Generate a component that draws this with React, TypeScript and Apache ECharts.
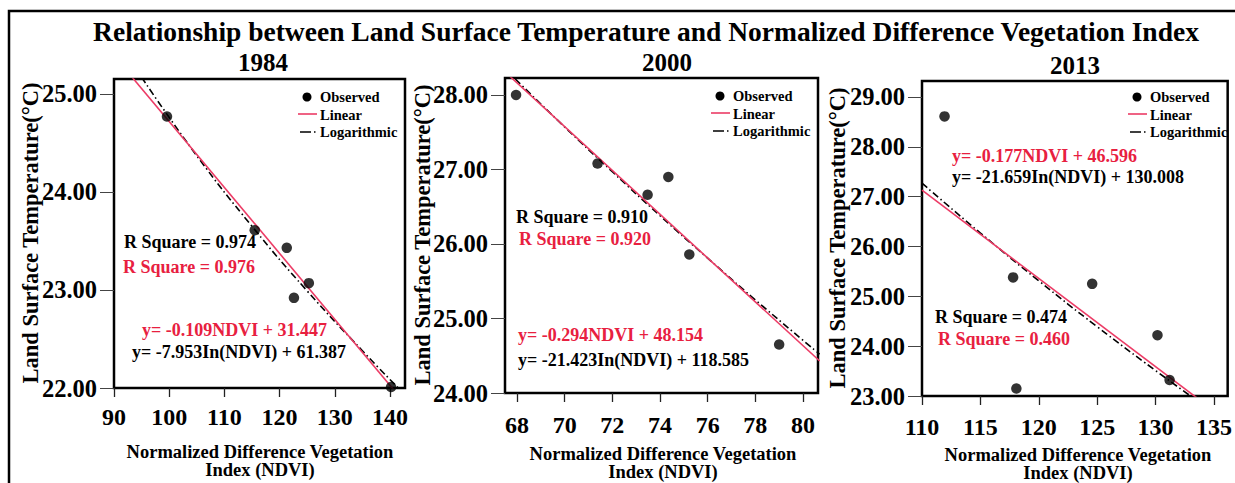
import React, { useEffect, useRef } from "react";
import * as echarts from "echarts";

const FONT = "'Liberation Serif', 'Times New Roman', serif";
const RED_TEXT = "#e8203f";
const RED_LINE = "#ec3c66";

const TITLE = "Relationship between Land Surface Temperature and Normalized Difference Vegetation Index";
const years = ["1984", "2000", "2013"];

// 1984
const obs1984X = [99.6, 115.5, 121.3, 122.6, 125.3, 140.2];
const obs1984Y = [24.77, 23.61, 23.43, 22.92, 23.07, 22.01];
const lin1984X = [93, 141];
const lin1984Y = [25.19, 21.96];
const log1984X = [95, 105, 115, 125, 135, 141.5];
const log1984Y = [25.17, 24.37, 23.65, 22.99, 22.38, 22.0];
const xTicks1984 = [90, 100, 110, 120, 130, 140];
const yTicks1984 = [22, 23, 24, 25];

// 2000
const obs2000X = [67.96, 71.38, 73.48, 74.35, 75.23, 79.0];
const obs2000Y = [28.0, 27.08, 26.66, 26.9, 25.86, 24.65];
const lin2000X = [67.5, 80.7];
const lin2000Y = [28.31, 24.43];
const log2000X = [67.5, 70, 72, 74, 76, 78, 80.7];
const log2000Y = [28.35, 27.57, 26.97, 26.38, 25.81, 25.25, 24.52];
const xTicks2000 = [68, 70, 72, 74, 76, 78, 80];
const yTicks2000 = [24, 25, 26, 27, 28];

// 2013
const obs2013X = [111.93, 117.8, 118.08, 124.57, 130.16, 131.2];
const obs2013Y = [28.61, 25.38, 23.15, 25.25, 24.22, 23.32];
const lin2013X = [110, 134];
const lin2013Y = [27.13, 22.88];
const log2013X = [110, 115, 120, 125, 130, 134];
const log2013Y = [27.27, 26.27, 25.31, 24.39, 23.51, 22.83];
const xTicks2013 = [110, 115, 120, 125, 130, 135];
const yTicks2013 = [23, 24, 25, 26, 27, 28, 29];

const rSqLog = ["R Square = 0.974", "R Square = 0.910", "R Square = 0.474"];
const rSqLin = ["R Square = 0.976", "R Square = 0.920", "R Square = 0.460"];
const eqLin = ["y= -0.109NDVI + 31.447", "y= -0.294NDVI + 48.154", "y= -0.177NDVI + 46.596"];
const eqLog = ["y= -7.953In(NDVI) + 61.387", "y= -21.423In(NDVI) + 118.585", "y= -21.659In(NDVI) + 130.008"];
const legendNames = ["Observed", "Linear", "Logarithmic"];
const yName = "Land Surface Temperature(°C)";
const xName = "Normalized Difference Vegetation\nIndex (NDVI)";

const zip = (xs: number[], ys: number[]) => xs.map((x, i) => [x, ys[i]]);

const panels = [
  {
    grid: { left: 114, top: 79, width: 291, height: 309 },
    x: { min: 90, max: 142.72, ticks: xTicks1984, margin: 17 },
    y: { min: 22, max: 25.153, ticks: yTicks1984 },
    obs: zip(obs1984X, obs1984Y), lin: zip(lin1984X, lin1984Y), log: zip(log1984X, log1984Y),
    sub: { x: 263, y: 62 },
    legend: { x: 320, y: 97 },
    rsq: { x: 124, y1: 242, y2: 267, dx2: -1 },
    eq: { xLin: 142, yLin: 330, xLog: 132, yLog: 352 },
    yNameX: 30, yNameY: 233,
    xName: { x: 260, y: 461 },
  },
  {
    grid: { left: 505, top: 78, width: 313, height: 315 },
    x: { min: 67.496, max: 80.63, ticks: xTicks2000, margin: 20 },
    y: { min: 24, max: 28.228, ticks: yTicks2000 },
    obs: zip(obs2000X, obs2000Y), lin: zip(lin2000X, lin2000Y), log: zip(log2000X, log2000Y),
    sub: { x: 667, y: 62 },
    legend: { x: 733, y: 96 },
    rsq: { x: 516, y1: 217, y2: 239, dx2: 3 },
    eq: { xLin: 518, yLin: 335, xLog: 518, yLog: 360 },
    yNameX: 422, yNameY: 235,
    xName: { x: 663, y: 463 },
  },
  {
    grid: { left: 922, top: 81, width: 312, height: 315 },
    x: { min: 110, max: 136.17, ticks: xTicks2013, margin: 19 },
    y: { min: 23, max: 29.32, ticks: yTicks2013 },
    obs: zip(obs2013X, obs2013Y), lin: zip(lin2013X, lin2013Y), log: zip(log2013X, log2013Y),
    sub: { x: 1075, y: 65 },
    legend: { x: 1150, y: 97 },
    rsq: { x: 935, y1: 317, y2: 339, dx2: 3 },
    eq: { xLin: 952, yLin: 156, xLog: 952, yLog: 177 },
    yNameX: 837, yNameY: 238,
    xName: { x: 1078, y: 464 },
  },
];

const txt = (text: string, x: number, y: number, size: number, fill = "#000", align = "left", rotation = 0, lineHeight?: number) => ({
  type: "text",
  x,
  y,
  rotation,
  silent: true,
  style: {
    text,
    fill,
    fontFamily: FONT,
    fontWeight: "bold",
    fontSize: size,
    lineHeight: lineHeight ?? Math.round(size * 1.15),
    textAlign: align,
    textVerticalAlign: "middle",
    align,
    verticalAlign: "middle",
  },
});

export default function App() {
  const ref = useRef<HTMLDivElement>(null);
  useEffect(() => {
    if (!ref.current) return;
    const chart = echarts.init(ref.current, undefined, { renderer: "svg" });

    const grids: any[] = [];
    const xAxes: any[] = [];
    const yAxes: any[] = [];
    const series: any[] = [];
    const graphic: any[] = [];

    graphic.push({
      type: "rect",
      shape: { x: 9, y: 11, width: 1250, height: 500 },
      style: { fill: "none", stroke: "#000", lineWidth: 2.5 },
      silent: true,
    });
    graphic.push(txt(TITLE, 646, 31, 27.5, "#000", "center", 0, 24));

    panels.forEach((p, i) => {
      grids.push({ ...p.grid, show: true, borderColor: "#000", borderWidth: 2.5, backgroundColor: "transparent" });
      xAxes.push({
        type: "value",
        gridIndex: i,
        min: p.x.min,
        max: p.x.max,
        axisLine: { show: false },
        splitLine: { show: false },
        axisTick: { show: true, inside: false, length: 9, customValues: p.x.ticks, lineStyle: { color: "#222", width: 1.3 } },
        axisLabel: {
          customValues: p.x.ticks,
          margin: p.x.margin,
          color: "#000",
          fontFamily: FONT,
          fontWeight: "bold",
          fontSize: 24,
        },
      });
      yAxes.push({
        type: "value",
        gridIndex: i,
        min: p.y.min,
        max: p.y.max,
        axisLine: { show: false },
        splitLine: { show: false },
        axisTick: { show: true, inside: false, length: 14, customValues: p.y.ticks, lineStyle: { color: "#444", width: 1 } },
        axisLabel: {
          customValues: p.y.ticks,
          margin: 17,
          color: "#000",
          fontFamily: FONT,
          fontWeight: "bold",
          fontSize: 24.5,
          formatter: (v: number) => v.toFixed(2),
        },
      });
      series.push({
        name: "Logarithmic",
        type: "line",
        xAxisIndex: i,
        yAxisIndex: i,
        data: p.log,
        smooth: true,
        showSymbol: false,
        clip: true,
        lineStyle: { color: "#000", width: 1.6, type: [7, 3, 1.5, 3] },
        z: 2,
      });
      series.push({
        name: "Linear",
        type: "line",
        xAxisIndex: i,
        yAxisIndex: i,
        data: p.lin,
        showSymbol: false,
        clip: true,
        lineStyle: { color: RED_LINE, width: 1.6 },
        z: 3,
      });
      series.push({
        name: "Observed",
        type: "scatter",
        xAxisIndex: i,
        yAxisIndex: i,
        data: p.obs,
        symbolSize: 10.5,
        itemStyle: { color: "#000" },
        z: 4,
      });

      // subtitle
      graphic.push(txt(years[i], p.sub.x, p.sub.y, 25, "#000", "center", 0, 22));
      // legend
      const lx = p.legend.x;
      const ly = p.legend.y;
      graphic.push({ type: "circle", shape: { cx: lx - 13, cy: ly, r: 4.5 }, style: { fill: "#000" }, silent: true });
      graphic.push({ type: "line", shape: { x1: lx - 22, y1: ly + 17, x2: lx - 3, y2: ly + 17 }, style: { stroke: RED_LINE, lineWidth: 1.6 }, silent: true });
      graphic.push({ type: "line", shape: { x1: lx - 20, y1: ly + 35, x2: lx - 2, y2: ly + 35 }, style: { stroke: "#000", lineWidth: 1.6, lineDash: [11, 3, 1.5, 3] }, silent: true });
      legendNames.forEach((n, k) => graphic.push(txt(n, lx, ly + k * 17.5, 14.5)));
      // annotations
      graphic.push(txt(rSqLog[i], p.rsq.x, p.rsq.y1, 18));
      graphic.push(txt(rSqLin[i], p.rsq.x + p.rsq.dx2, p.rsq.y2, 18, RED_TEXT));
      graphic.push(txt(eqLin[i], p.eq.xLin, p.eq.yLin, 18, RED_TEXT));
      graphic.push(txt(eqLog[i], p.eq.xLog, p.eq.yLog, 18));
      // axis names
      graphic.push(txt(yName, p.yNameX, p.yNameY, 22.5, "#000", "center", Math.PI / 2));
      graphic.push(txt(xName, p.xName.x, p.xName.y, 18.5, "#000", "center", 0, 18));
    });

    chart.setOption({
      animation: false,
      backgroundColor: "#fff",
      grid: grids,
      xAxis: xAxes,
      yAxis: yAxes,
      series,
      graphic,
    });
    return () => chart.dispose();
  }, []);
  return <div ref={ref} style={{ position: "fixed", left: 0, top: 0, width: 1235, height: 483 }} />;
}
